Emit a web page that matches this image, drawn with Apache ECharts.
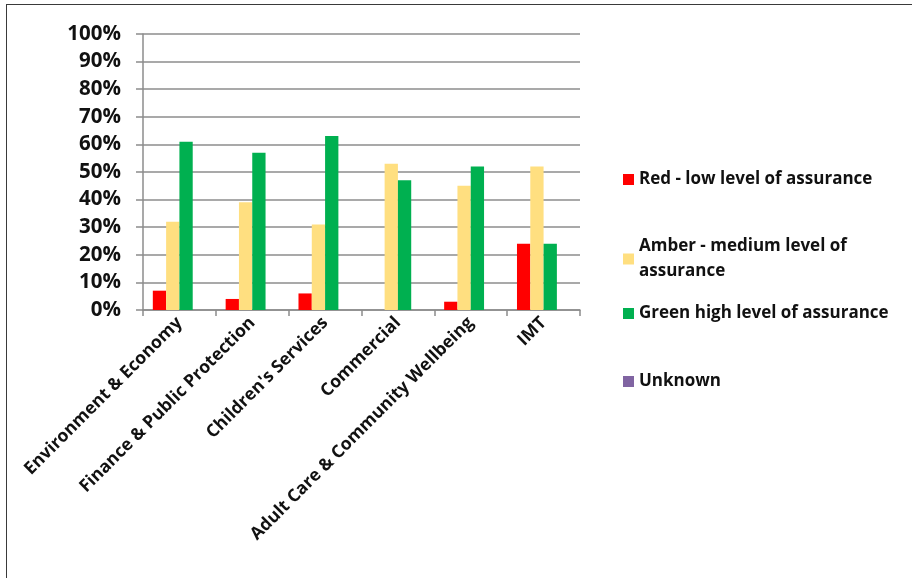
<!DOCTYPE html>
<html lang="en">
<head>
    <meta charset="UTF-8">
    <title>Assurance levels</title>
    <script src="https://cdn.jsdelivr.net/npm/echarts@6/dist/echarts.min.js"></script>
    <style>
        body { margin: 0; background: #fff; }
        #frame { position: absolute; left: 6px; top: 4px; width: 912px; height: 580px;
                 border-left: 1.5px solid #3a3a3a; border-top: 1.5px solid #3a3a3a; }
        #main { position: absolute; left: 0; top: 0; width: 912px; height: 578px; }
    </style>
</head>
<body>
<div id="frame"></div>
<div id="main"></div>

<script>
var categories = ['Environment & Economy', 'Finance & Public Protection', "Children's Services",
                  'Commercial', 'Adult Care & Community Wellbeing', 'IMT'];
var redValues = [7, 4, 6, 0, 3, 24];
var amberValues = [32, 39, 31, 53, 45, 52];
var greenValues = [61, 57, 63, 47, 52, 24];
var unknownValues = [0, 0, 0, 0, 0, 0];
var seriesNames = ['Red - low level of assurance', 'Amber - medium level of\nassurance',
                   'Green high level of assurance', 'Unknown'];
var seriesColors = ['#ff0000', '#ffdf80', '#00b050', '#8064a2'];

var font = '"Open Sans", Lato, sans-serif';
var myChart = echarts.init(document.getElementById('main'));

var allValues = [redValues, amberValues, greenValues, unknownValues];
var legendTops = [162, 229, 296, 364];

var series = allValues.map(function (vals, i) {
    return {
        name: seriesNames[i],
        type: 'bar',
        data: vals,
        barWidth: 13.3,
        barGap: '0%',
        itemStyle: { color: seriesColors[i] }
    };
});

var legends = seriesNames.map(function (n, i) {
    return {
        data: [n],
        left: 618,
        top: legendTops[i],
        itemWidth: 11,
        itemHeight: 11,
        itemGap: 6,
        icon: 'rect',
        textStyle: { fontFamily: font, fontWeight: 'bold', fontSize: 17, color: '#111', lineHeight: 25 }
    };
});

myChart.setOption({
    animation: false,
    legend: legends,
    grid: { left: 143, right: 332, top: 34, bottom: 268, containLabel: false },
    xAxis: {
        type: 'category',
        data: categories,
        axisLine: { lineStyle: { color: '#8c8c8c', width: 1.5 } },
        axisTick: { show: true, length: 6, lineStyle: { color: '#8c8c8c', width: 1.5 } },
        axisLabel: {
            rotate: 45,
            interval: 0,
            margin: 10,
            fontFamily: font,
            fontWeight: 'bold',
            fontSize: 17.5,
            color: '#111'
        }
    },
    yAxis: {
        type: 'value',
        min: 0,
        max: 100,
        interval: 10,
        axisLine: { show: true, lineStyle: { color: '#8c8c8c', width: 1.5 } },
        axisTick: { show: true, length: 7, lineStyle: { color: '#8c8c8c', width: 1.5 } },
        splitLine: { lineStyle: { color: '#8c8c8c', width: 1.5 } },
        axisLabel: {
            formatter: '{value}%',
            margin: 22,
            fontFamily: font,
            fontWeight: 'bold',
            fontSize: 20.5,
            color: '#111'
        }
    },
    series: series
});
</script>
</body>
</html>
